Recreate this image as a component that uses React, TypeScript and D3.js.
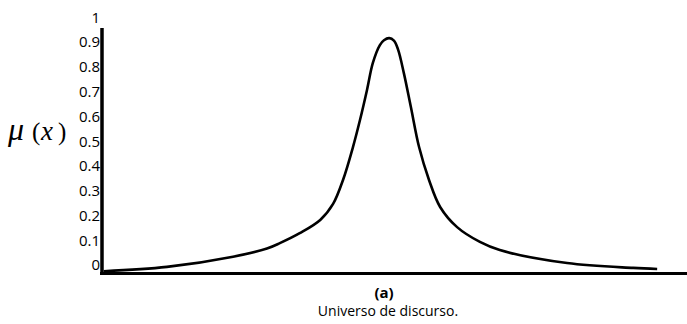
import React from "react";
import * as d3 from "d3";

// Universe of discourse positions (0–100) and membership degrees of the bell-shaped set
const universe = [0.3, 11.1, 22.4, 28.2, 30.4, 33.8, 37.3, 39.5, 41.2, 42.9, 44.1, 45.3, 46.3, 47.5, 48.2, 49.1, 49.9, 50.6, 51.6, 52.8, 54.2, 55.9, 57.8, 60.7, 64.6, 68.0, 79.5, 90.8, 94.9];
const membership = [0.003, 0.02, 0.06, 0.092, 0.113, 0.152, 0.204, 0.267, 0.361, 0.49, 0.596, 0.714, 0.82, 0.89, 0.909, 0.917, 0.907, 0.873, 0.78, 0.647, 0.49, 0.361, 0.255, 0.176, 0.118, 0.086, 0.035, 0.016, 0.012];

// Y tick labels
const tickValues = [0, 0.1, 0.2, 0.3, 0.4, 0.5, 0.6, 0.7, 0.8, 0.9, 1];
const tickLabels = ["0", "0.1", "0.2", "0.3", "0.4", "0.5", "0.6", "0.7", "0.8", "0.9", "1"];

const W = 687;
const H = 324;
const FONT = "'Open Sans', Lato, sans-serif";
const SERIF = "'Liberation Serif', 'Times New Roman', serif";

export default function App() {
  const x = d3.scaleLinear().domain([0, 100]).range([102, 687]);
  const y = d3.scaleLinear().domain([0, 1]).range([272, 17]);
  const yLabel = d3.scaleLinear().domain([0, 1]).range([265, 17.3]);

  const pts = universe.map((u, i) => [u, membership[i]] as [number, number]);
  const line = d3
    .line<[number, number]>()
    .x((d) => x(d[0]))
    .y((d) => y(d[1]))
    .curve(d3.curveCatmullRom.alpha(0.5));

  return (
    <svg
      width={W}
      height={H}
      style={{ position: "absolute", left: 0, top: 0, background: "#fff" }}
    >
      {/* membership curve */}
      <path d={line(pts) ?? ""} fill="none" stroke="#000" strokeWidth={2.6} />

      {/* axes */}
      <line x1={102} y1={28} x2={102} y2={275} stroke="#000" strokeWidth={3.5} />
      <line x1={100} y1={273.5} x2={W} y2={273.5} stroke="#000" strokeWidth={3} />

      {/* tick labels */}
      {tickValues.map((v, i) => (
        <text
          key={v}
          x={100}
          y={yLabel(v)}
          dy="0.36em"
          textAnchor="end"
          fontFamily={FONT}
          fontSize={15}
          fill="#000"
        >
          {tickLabels[i]}
        </text>
      ))}

      {/* y-axis title */}
      <text y={140} fontFamily={SERIF} fill="#000">
        <tspan x={8} fontSize={32} fontStyle="italic">μ</tspan>
        <tspan x={32} fontSize={25}>(</tspan>
        <tspan x={41} fontSize={27} fontStyle="italic">x</tspan>
        <tspan x={58} fontSize={25}>)</tspan>
      </text>

      {/* x captions */}
      <text
        x={384}
        y={298}
        textAnchor="middle"
        fontFamily={FONT}
        fontWeight="bold"
        fontSize={15}
        fill="#000"
      >
        (a)
      </text>
      <text
        x={388}
        y={316}
        textAnchor="middle"
        fontFamily={FONT}
        fontSize={14}
        fill="#000"
      >
        Universo de discurso.
      </text>
    </svg>
  );
}
